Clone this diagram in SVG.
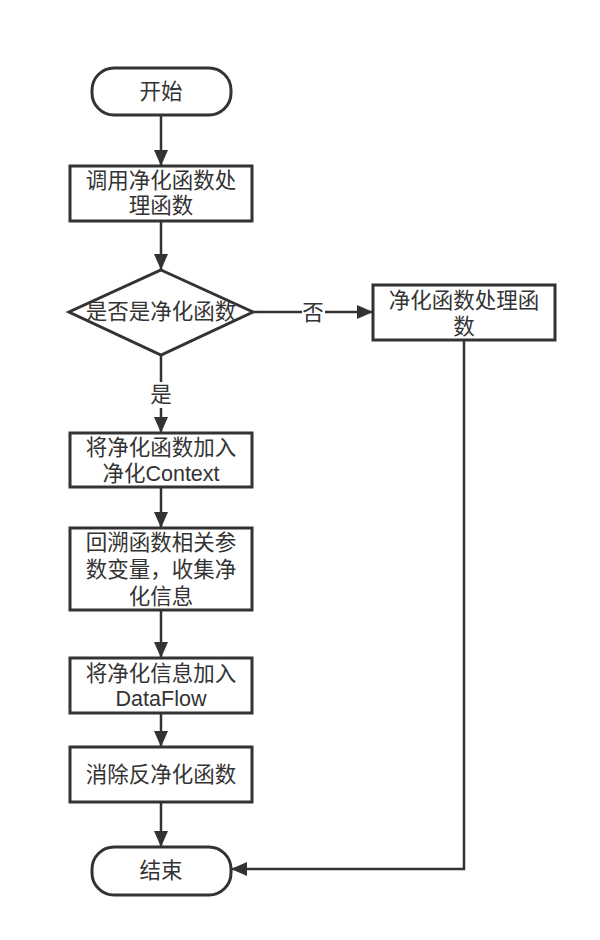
<svg xmlns="http://www.w3.org/2000/svg" width="600" height="940" viewBox="0 0 600 940">
<style>
.shape{fill:#ffffff;stroke:#333333;stroke-width:3}
.edge{fill:none;stroke:#333333;stroke-width:2.5}
text{font-family:"Liberation Sans","Noto Sans CJK SC",sans-serif;font-size:21.5px;fill:#333333;text-anchor:middle;dominant-baseline:central}
.lbl{fill:#ffffff;stroke:none}
</style>
<defs>
<marker id="arrow" markerUnits="userSpaceOnUse" viewBox="0 0 16 14" markerWidth="16" markerHeight="14" refX="16" refY="7" orient="auto">
<path d="M0,0 L16,7 L0,14 z" fill="#333333"/>
</marker>
</defs>
<rect width="600" height="940" fill="#ffffff"/>
<g id="connectors">
<line class="edge" x1="161" y1="115" x2="161" y2="166" marker-end="url(#arrow)"/>
<line class="edge" x1="161" y1="221" x2="161" y2="270" marker-end="url(#arrow)"/>
<line class="edge" x1="253" y1="312" x2="373" y2="312" marker-end="url(#arrow)"/>
<rect class="lbl" x="302" y="300" width="23" height="24"/>
<text x="313" y="313">否</text>
<line class="edge" x1="161" y1="355" x2="161" y2="433" marker-end="url(#arrow)"/>
<rect class="lbl" x="150" y="382" width="23" height="26"/>
<text x="161" y="395">是</text>
<line class="edge" x1="161" y1="487" x2="161" y2="528" marker-end="url(#arrow)"/>
<line class="edge" x1="161" y1="610" x2="161" y2="658" marker-end="url(#arrow)"/>
<line class="edge" x1="161" y1="713" x2="161" y2="747" marker-end="url(#arrow)"/>
<line class="edge" x1="161" y1="802" x2="161" y2="847" marker-end="url(#arrow)"/>
<polyline class="edge" points="464,340 464,869 231,869" marker-end="url(#arrow)"/>
</g>
<g id="start">
<rect class="shape" x="92" y="68" width="139" height="47" rx="22" ry="22"/>
<text x="161" y="92">开始</text>
</g>
<g id="call">
<rect class="shape" x="70" y="166" width="182" height="55"/>
<text x="161" y="181"><tspan x="161" y="181">调用净化函数处</tspan><tspan x="161" y="206">理函数</tspan></text>
</g>
<g id="decision">
<polygon class="shape" points="161,270 253,312 161,355 69,312"/>
<text x="161" y="312">是否是净化函数</text>
</g>
<g id="process">
<rect class="shape" x="373" y="285" width="182" height="55"/>
<text x="464" y="301"><tspan x="464" y="301">净化函数处理函</tspan><tspan x="464" y="327">数</tspan></text>
</g>
<g id="addContext">
<rect class="shape" x="70" y="433" width="182" height="54"/>
<text x="161" y="448"><tspan x="161" y="448">将净化函数加入</tspan><tspan x="161" y="474">净化Context</tspan></text>
</g>
<g id="backtrack">
<rect class="shape" x="70" y="528" width="182" height="82"/>
<text x="161" y="543"><tspan x="161" y="543">回溯函数相关参</tspan><tspan x="161" y="570">数变量，收集净</tspan><tspan x="161" y="597">化信息</tspan></text>
</g>
<g id="addDataFlow">
<rect class="shape" x="70" y="658" width="182" height="55"/>
<text x="161" y="674"><tspan x="161" y="674">将净化信息加入</tspan><tspan x="161" y="699">DataFlow</tspan></text>
</g>
<g id="eliminate">
<rect class="shape" x="70" y="747" width="182" height="55"/>
<text x="161" y="775">消除反净化函数</text>
</g>
<g id="end">
<rect class="shape" x="92" y="847" width="139" height="48" rx="22" ry="22"/>
<text x="161" y="871">结束</text>
</g>
</svg>
